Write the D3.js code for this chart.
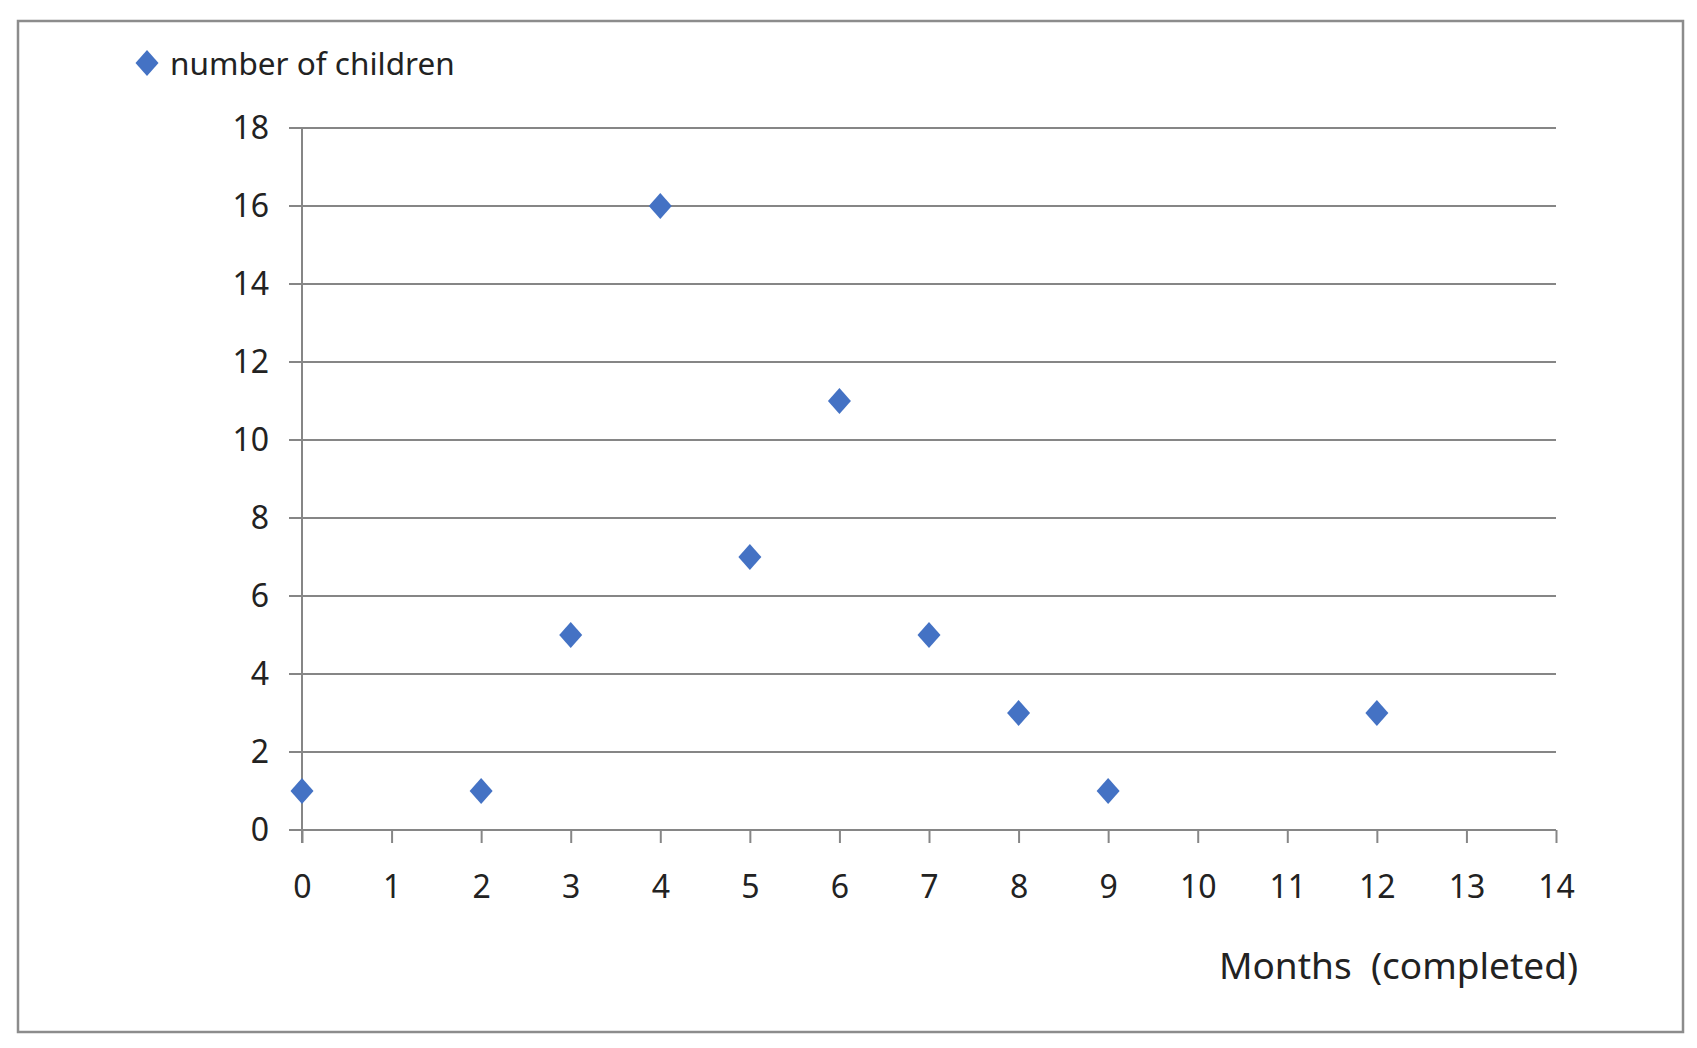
<!DOCTYPE html>
<html><head><meta charset="utf-8">
<script src="https://cdn.jsdelivr.net/npm/d3@7"></script>
<style>html,body{margin:0;padding:0;background:#fff;}svg{display:block;}</style>
</head><body>
<script>
const months = [0, 2, 3, 4, 5, 6, 7, 8, 9, 12];
const children = [1, 1, 5, 16, 7, 11, 5, 3, 1, 3];
const xTicks = [0,1,2,3,4,5,6,7,8,9,10,11,12,13,14];
const yTicks = [0,2,4,6,8,10,12,14,16,18];
const seriesName = "number of children";
const xTitle = "Months\u00a0\u00a0(completed)";

const W = 1697, H = 1048;
const font = "'Noto Sans', 'Open Sans', sans-serif";
const svg = d3.select("body").append("svg").attr("width", W).attr("height", H);

svg.append("rect").attr("x", 18).attr("y", 21).attr("width", 1665).attr("height", 1011)
  .attr("fill", "#fff").attr("stroke", "#8c8c8c").attr("stroke-width", 2.5);

const x = d3.scaleLinear().domain([0, 14]).range([302, 1556]);
const y = d3.scaleLinear().domain([0, 18]).range([830, 128]);

const g = svg.append("g");
g.selectAll("line.grid").data(yTicks).join("line")
  .attr("x1", x(0) - 13).attr("x2", x(14))
  .attr("y1", d => y(d)).attr("y2", d => y(d))
  .attr("stroke", "#868686").attr("stroke-width", 2);

const yAxis = d3.axisLeft(y).tickValues(yTicks).tickSize(0).tickPadding(33);
const ya = svg.append("g").attr("transform", `translate(${x(0)},0)`).call(yAxis);
ya.select(".domain").remove();
ya.selectAll("text").attr("font-family", font).attr("font-size", 32).attr("fill", "#222");
svg.append("line").attr("x1", x(0)).attr("x2", x(0)).attr("y1", y(18)).attr("y2", y(0) + 13)
  .attr("stroke", "#868686").attr("stroke-width", 2);

const xAxis = d3.axisBottom(x).tickValues(xTicks).tickSize(13).tickPadding(32);
const xa = svg.append("g").attr("transform", `translate(0,${y(0)})`).call(xAxis);
xa.select(".domain").attr("stroke", "#868686").attr("stroke-width", 2).attr("d", `M${x(0)},0H${x(14)}`);
xa.selectAll(".tick line").attr("stroke", "#868686").attr("stroke-width", 2);
xa.selectAll("text").attr("font-family", font).attr("font-size", 32).attr("fill", "#222");

const diamond = (cx, cy, w, h) => `M${cx},${cy - h/2}L${cx + w/2},${cy}L${cx},${cy + h/2}L${cx - w/2},${cy}Z`;
svg.selectAll("path.pt").data(months.map((m, i) => [m, children[i]])).join("path")
  .attr("d", d => diamond(x(d[0]), y(d[1]), 23, 26))
  .attr("fill", "#4472C4");

svg.append("path").attr("d", diamond(147, 63, 23, 26)).attr("fill", "#4472C4");
svg.append("text").attr("x", 170).attr("y", 75).attr("font-family", font).attr("font-size", 31.5)
  .attr("fill", "#222").text(seriesName);

svg.append("text").attr("x", 1578).attr("y", 979).attr("text-anchor", "end")
  .attr("font-family", font).attr("font-size", 37).attr("fill", "#222").text(xTitle);
</script>
</body></html>
